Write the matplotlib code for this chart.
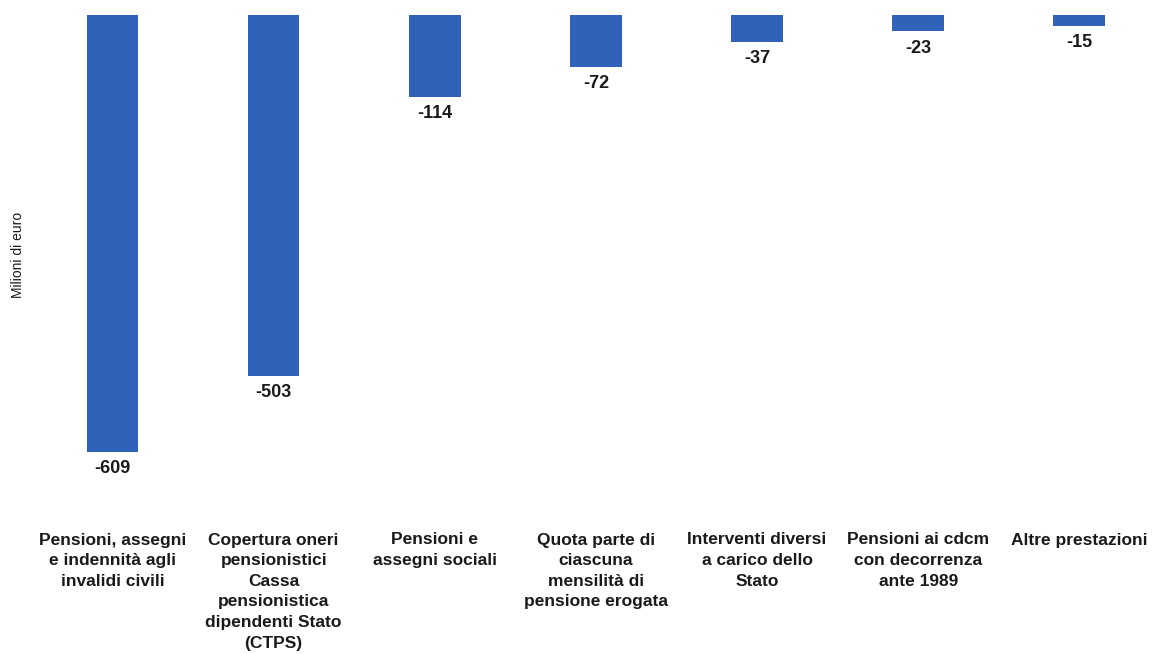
# Bar chart: oneri a carico dello Stato (milioni di euro)

import matplotlib.pyplot as plt

plt.rcParams["font.family"] = ["Liberation Sans", "DejaVu Sans"]

categories = [
    "Pensioni, assegni\ne indennità agli\ninvalidi civili",
    "Copertura oneri\npensionistici\nCassa\npensionistica\ndipendenti Stato\n(CTPS)",
    "Pensioni e\nassegni sociali",
    "Quota parte di\nciascuna\nmensilità di\npensione erogata",
    "Interventi diversi\na carico dello\nStato",
    "Pensioni ai cdcm\ncon decorrenza\nante 1989",
    "Altre prestazioni",
]
values = [-609, -503, -114, -72, -37, -23, -15]

bar_color = "#2f62b8"
text_color = "#1a1a1a"

fig = plt.figure(figsize=(11.55, 6.54), dpi=100)
ax = fig.add_axes([32 / 1155, 1 - 470 / 654, 1 - 32 / 1155, 455 / 654])

x = list(range(len(values)))
ax.bar(x, values, width=0.32, color=bar_color)

# Value labels below each bar
for xi, v in zip(x, values):
    ax.annotate(
        f"{v}",
        (xi, v),
        xytext=(0, -6),
        textcoords="offset points",
        ha="center",
        va="top",
        fontsize=13,
        fontweight="bold",
        color=text_color,
    )

ax.set_xlim(-0.5, 6.47)
ax.set_ylim(-634.6, 0)

ax.set_xticks(x)
ax.set_xticklabels(
    categories, fontsize=12.5, fontweight="bold", color=text_color, linespacing=1.47
)
ax.tick_params(axis="x", length=0, pad=45)
ax.set_yticks([])
for s in ax.spines.values():
    s.set_visible(False)

fig.text(
    18 / 1155,
    1 - 255 / 654,
    "Milioni di euro",
    rotation=90,
    ha="center",
    va="center",
    fontsize=10,
    color=text_color,
)

fig.savefig("out.png", dpi=100)
